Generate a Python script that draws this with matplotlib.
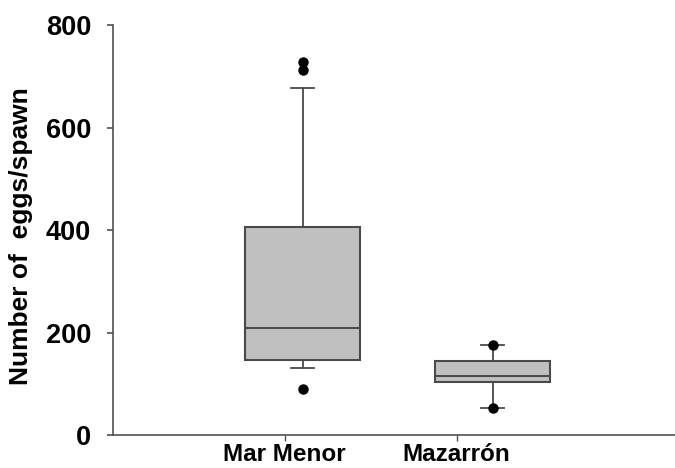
import matplotlib
matplotlib.use("Agg")
import matplotlib.pyplot as plt

# values
sites = ["Mar Menor", "Mazarrón"]
q1 = [146, 103]
med = [209, 115]
q3 = [406, 144]
whislo = [131, 53]
whishi = [677, 176]
fliers = [[90, 712, 728], [53, 176]]

box_pos = [1.105, 2.21]
tick_pos = [1.0, 2.0]

plt.rcParams['font.family'] = ['Liberation Sans', 'DejaVu Sans']
plt.rcParams['font.weight'] = 'bold'

fig = plt.figure(figsize=(6.75, 4.68), dpi=100)
ax = fig.add_axes([0.167, 0.0705, 0.833, 0.876])

stats = []
for i in range(len(sites)):
    stats.append(dict(med=med[i], q1=q1[i], q3=q3[i], whislo=whislo[i],
                      whishi=whishi[i], fliers=fliers[i], label=sites[i]))

edge = '#4a4a4a'
ax.bxp(stats, positions=box_pos, widths=0.67, patch_artist=True,
       boxprops=dict(facecolor='#c0c0c0', edgecolor=edge, linewidth=1.5),
       medianprops=dict(color=edge, linewidth=1.5),
       whiskerprops=dict(color=edge, linewidth=1.3),
       capprops=dict(color=edge, linewidth=1.3),
       capwidths=0.135,
       flierprops=dict(marker='o', markerfacecolor='black', markeredgecolor='black',
                       markersize=6.5))

ax.set_xlim(0, 3.27)
ax.set_ylim(0, 800)
ax.set_xticks(tick_pos)
ax.set_xticklabels(sites)
ax.set_yticks([0, 200, 400, 600, 800])

for s in ['top', 'right']:
    ax.spines[s].set_visible(False)
for s in ['left', 'bottom']:
    ax.spines[s].set_color('#505050')
    ax.spines[s].set_linewidth(1.2)

ax.tick_params(axis='y', length=4.5, width=1.2, color='#505050', pad=11, labelsize=19.5)
ax.tick_params(axis='x', length=4, width=1.0, color='#505050', pad=2, labelsize=17.5)
for lab in ax.get_xticklabels() + ax.get_yticklabels():
    lab.set_fontweight('bold')

ax.set_ylabel("Number of  eggs/spawn", fontsize=19, fontweight='bold')
ax.yaxis.set_label_coords(-0.142, 0.485)

fig.savefig("out.png", dpi=100)
